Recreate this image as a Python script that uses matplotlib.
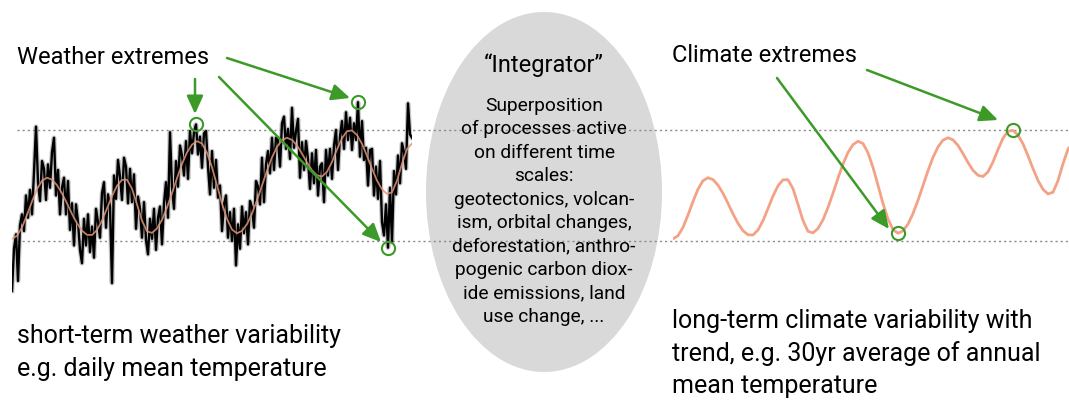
import numpy as np
import matplotlib.pyplot as plt
from matplotlib.patches import Ellipse, FancyArrowPatch

plt.rcParams['font.family'] = ['Roboto', 'DejaVu Sans']

# daily weather series (arbitrary units, 0 = lower dotted line, 1 = upper)
weather = [-0.45, -0.07, 0.06, -0.36, 0.14, 0.24, 0.09, 0.41, 0.21, 0.46,
           0.24, 0.62, 1.03, 0.53, 0.36, 0.72, 0.65, 0.37, 0.69, 0.48,
           0.80, 0.93, 0.41, 0.64, 0.24, 0.48, 0.57, 0.24, 0.54, 0.10,
           0.34, -0.04, 0.33, 0.17, -0.08, -0.20, 0.20, -0.04, 0.24, -0.10,
           0.13, -0.15, 0.29, 0.17, 0.03, 0.43, 0.53, 0.12, 0.42, 0.31,
           -0.38, 0.59, 0.38, 0.73, 0.58, 0.37, 0.75, 0.67, 0.34, 0.65,
           0.35, 0.60, 0.11, 0.40, 0.29, 0.03, 0.35, 0.01, -0.12, 0.20,
           0.02, 0.29, -0.08, 0.21, 0.31, -0.03, 0.34, 0.53, 0.21, 0.98,
           0.48, 0.29, 0.72, 0.49, 0.86, 0.77, 0.59, 0.90, 0.56, 0.99,
           0.79, 0.98, 1.05, 0.78, 0.94, 0.66, 0.97, 0.99, 0.67, 0.42,
           0.81, 0.48, 0.73, 0.39, 0.50, 0.09, 0.33, 0.41, 0.03, 0.26,
           0.00, 0.29, -0.22, 0.15, -0.07, 0.31, 0.07, 0.26, -0.03, 0.36,
           0.30, 0.12, 0.54, 0.49, 0.33, 0.75, 0.35, 0.69, 0.81, 0.61,
           0.93, 0.64, 0.93, 0.91, 0.67, 1.06, 1.12, 0.83, 1.01, 0.74,
           1.20, 0.84, 0.99, 1.10, 0.57, 0.89, 0.64, 0.90, 0.74, 0.47,
           0.79, 0.52, 0.82, 0.41, 0.67, 0.70, 0.35, 0.82, 0.59, 0.83,
           0.56, 0.86, 1.00, 0.64, 0.94, 1.08, 0.83, 1.16, 0.91, 1.11,
           0.82, 1.06, 0.91, 1.25, 0.76, 1.08, 0.73, 0.84, 0.50, 0.82,
           0.83, 0.41, 0.67, 0.38, 0.72, 0.17, 0.05, 0.33, -0.06, 0.48,
           -0.01, 0.63, 0.42, 0.77, 0.52, 0.88, 0.80, 0.65, 1.24, 0.96, 0.93]

# smoothed climate curve, same units
climate = [0.02, 0.047, 0.123, 0.234, 0.356, 0.467, 0.543, 0.57, 0.553, 0.503,
           0.429, 0.339, 0.244, 0.159, 0.093, 0.056, 0.054, 0.099, 0.184, 0.293,
           0.405, 0.497, 0.551, 0.552, 0.471, 0.330, 0.184, 0.087, 0.073, 0.113,
           0.191, 0.302, 0.431, 0.566, 0.693, 0.798, 0.868, 0.899, 0.878, 0.795,
           0.663, 0.502, 0.337, 0.198, 0.103, 0.07, 0.091, 0.152, 0.247, 0.367,
           0.5, 0.633, 0.753, 0.848, 0.909, 0.93, 0.911, 0.861, 0.787, 0.707,
           0.637, 0.592, 0.581, 0.623, 0.712, 0.824, 0.926, 0.989, 0.996, 0.955,
           0.875, 0.768, 0.652, 0.545, 0.465, 0.424, 0.439, 0.544, 0.696, 0.828,
           0.88]

weather_ext = [92, 173, 188]   # indices of marked weather extremes
climate_ext = [45, 68]         # indices of marked climate extremes

body_lines = ["Superposition", "of processes active", "on different time",
              "scales:", "geotectonics, volcan-", "ism, orbital changes,",
              "deforestation, anthro-", "pogenic carbon diox-",
              "ide emissions, land", "use change, ..."]

W, H = 1069, 400
green = '#3c9a28'
fig = plt.figure(figsize=(W / 100, H / 100), dpi=100)


def px_axes(x0, y0, x1, y1, z):
    ax = fig.add_axes([x0 / W, 1 - y1 / H, (x1 - x0) / W, (y1 - y0) / H], zorder=z)
    ax.set_axis_off()
    return ax


bg = px_axes(0, 0, W, H, 0)
bg.set_xlim(0, W)
bg.set_ylim(H, 0)

# dotted reference lines
for y in (130, 241):
    bg.plot([17, W], [y, y], color='#8a8a8a', lw=1.0, ls=(0, (1.5, 2.2)))

bg.add_patch(Ellipse((544, 192), 236, 360, fc='#d9d9da', ec='none'))
bg.text(544, 65, '\u201cIntegrator\u201d', fontsize=17, ha='center', va='center')
for i, s in enumerate(body_lines):
    bg.text(544, 106 + 23.4 * i, s, fontsize=13.8, ha='center', va='center')

bg.text(17, 57, 'Weather extremes', fontsize=17, va='center')
bg.text(672, 56, 'Climate extremes', fontsize=17, va='center')
bg.text(17, 343, 'short-term weather variability', fontsize=18, va='baseline')
bg.text(17, 376, 'e.g. daily mean temperature', fontsize=18, va='baseline')
for i, s in enumerate(['long-term climate variability with',
                       'trend, e.g. 30yr average of annual',
                       'mean temperature']):
    bg.text(672, 328 + 32.5 * i, s, fontsize=18, va='baseline')

# left: weather with smoothed curve
tw = np.linspace(0, 400, len(weather))
tc = np.linspace(0, 400, len(climate))
wv = np.array(weather)
cv = np.array(climate)

axL = px_axes(12, 85.6, 412, 307.6, 1)
axL.set_xlim(0, 400)
axL.set_ylim(-0.6, 1.4)
axL.plot(tw, wv, color='#8c8c8c', lw=3.4, alpha=0.5)
axL.plot(tw, wv, color='black', lw=1.7)
axL.plot(tc, cv, color='#e29476', lw=1.3, alpha=0.85, solid_joinstyle='round')
axL.plot(tw[weather_ext], wv[weather_ext], 'o', mfc='none', mec=green, ms=9.5, mew=1.5)

# right: climate curve
axR = px_axes(673, 85.6, 1073, 307.6, 1)
axR.set_xlim(0, 400)
axR.set_ylim(-0.6, 1.4)
axR.plot(tc, cv, color='#f4a285', lw=2.0, solid_joinstyle='round')
axR.plot(tc[climate_ext], cv[climate_ext], 'o', mfc='none', mec=green, ms=9.5, mew=1.5)

# arrows
fg = px_axes(0, 0, W, H, 2)
fg.set_xlim(0, W)
fg.set_ylim(H, 0)
for a, b in [((195, 79), (195, 114)), ((227, 58), (350, 98)), ((219, 77), (381, 242)),
             ((777, 78), (889, 229)), ((867, 70), (998, 120))]:
    fg.add_patch(FancyArrowPatch(a, b, arrowstyle='-|>,head_length=1.1,head_width=0.5',
                                 mutation_scale=10, lw=1.8, color=green,
                                 shrinkA=0, shrinkB=0))

fig.savefig('out.png', dpi=100)
